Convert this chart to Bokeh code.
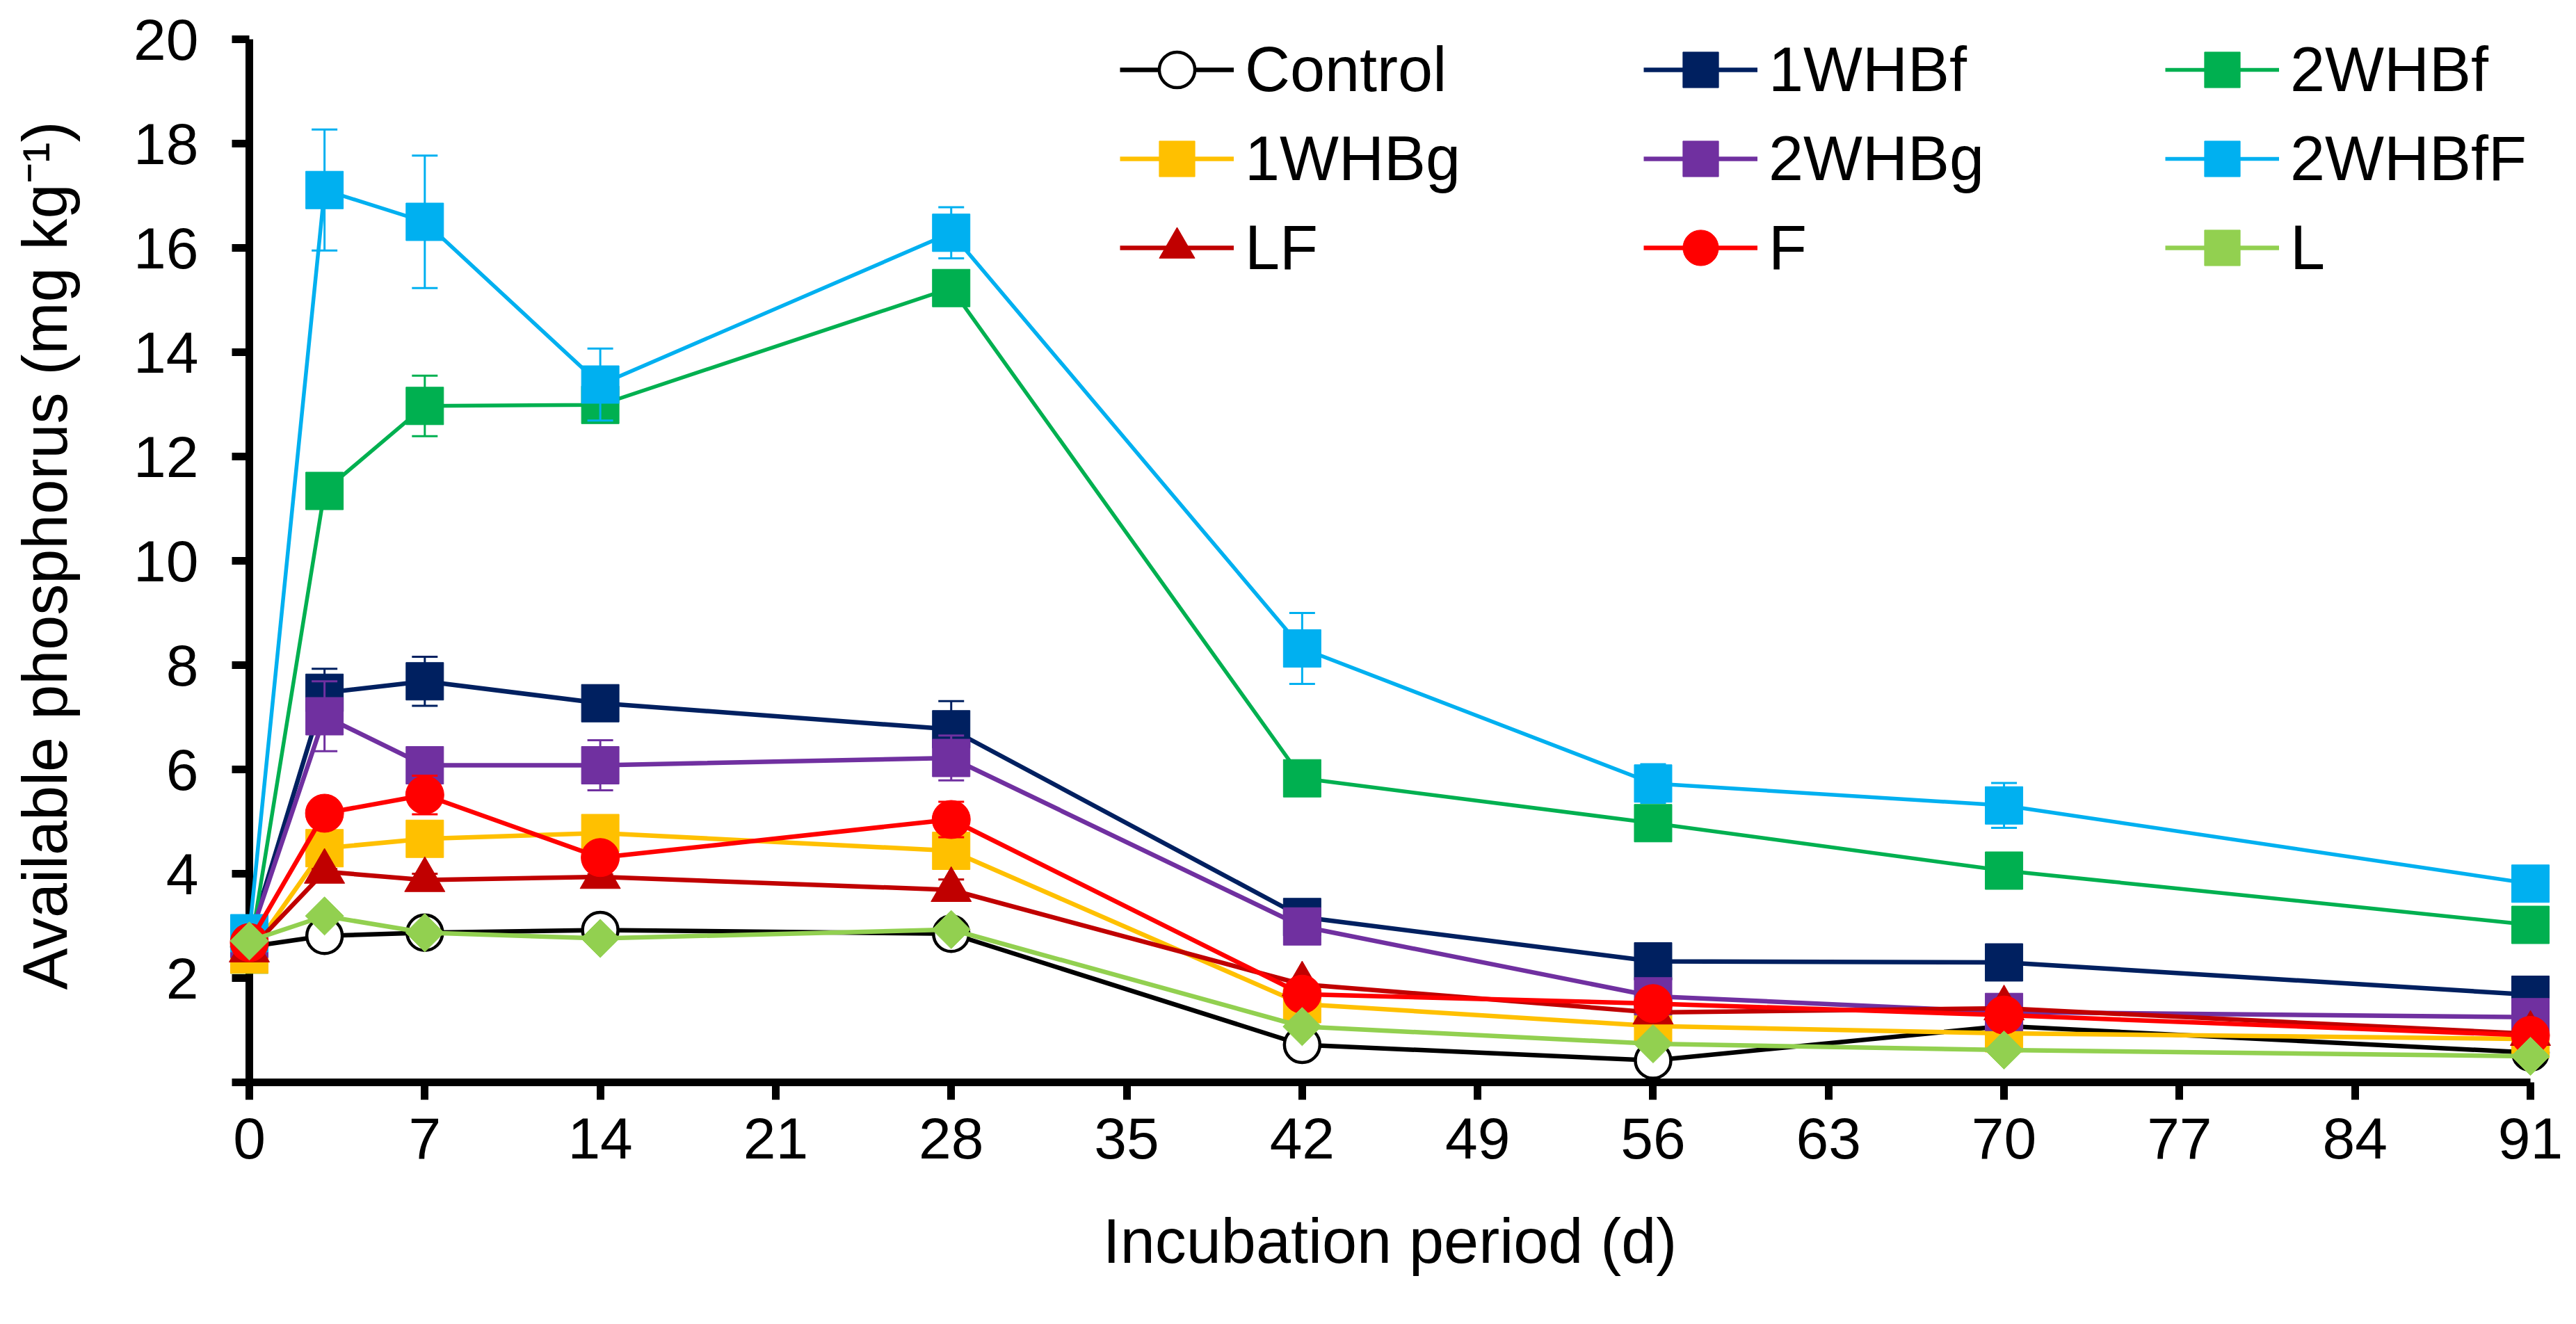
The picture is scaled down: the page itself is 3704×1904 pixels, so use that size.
import numpy as np
from bokeh.plotting import figure
from bokeh.models import (Range1d, FixedTicker, Legend, LegendItem,
                          ColumnDataSource)
from bokeh.embed import file_html
from bokeh.resources import INLINE

# ---------------- data ----------------
days = [0, 3, 7, 14, 28, 42, 56, 70, 91]
x_ticks = [0, 7, 14, 21, 28, 35, 42, 49, 56, 63, 70, 77, 84, 91]
y_ticks = [0, 2, 4, 6, 8, 10, 12, 14, 16, 18, 20]

control = [2.60, 2.81, 2.87, 2.92, 2.85, 0.72, 0.42, 1.08, 0.57]
wh1f = [2.75, 7.47, 7.69, 7.27, 6.77, 3.17, 2.32, 2.30, 1.68]
wh2f = [2.45, 11.34, 12.97, 12.99, 15.23, 5.83, 4.97, 4.06, 3.02]
wh1g = [2.45, 4.49, 4.67, 4.78, 4.44, 1.50, 1.08, 0.94, 0.83]
wh2g = [2.75, 7.02, 6.08, 6.08, 6.22, 2.99, 1.65, 1.35, 1.25]
wh2ff = [2.86, 17.11, 16.50, 13.38, 16.29, 8.32, 5.73, 5.31, 3.81]
lf = [2.53, 4.04, 3.88, 3.94, 3.69, 1.88, 1.34, 1.42, 0.93]
f = [2.68, 5.16, 5.51, 4.31, 5.04, 1.69, 1.51, 1.29, 0.90]
l = [2.71, 3.19, 2.87, 2.76, 2.93, 1.07, 0.74, 0.62, 0.50]

control_err = [0.10, 0.12, 0.10, 0.08, 0.10, 0.10, 0.06, 0.10, 0.05]
wh1f_err = [0.10, 0.46, 0.47, 0.20, 0.54, 0.15, 0.15, 0.10, 0.10]
wh2f_err = [0.10, 0.20, 0.58, 0.30, 0.20, 0.15, 0.15, 0.15, 0.10]
wh1g_err = [0.10, 0.25, 0.20, 0.25, 0.30, 0.15, 0.10, 0.10, 0.08]
wh2g_err = [0.10, 0.67, 0.25, 0.48, 0.43, 0.20, 0.15, 0.10, 0.10]
wh2ff_err = [0.10, 1.16, 1.27, 0.69, 0.49, 0.68, 0.37, 0.43, 0.15]
lf_err = [0.05, 0.05, 0.12, 0.05, 0.20, 0.05, 0.05, 0.05, 0.05]
f_err = [0.10, 0.20, 0.37, 0.25, 0.34, 0.20, 0.10, 0.10, 0.10]
l_err = [0.06, 0.08, 0.05, 0.07, 0.06, 0.05, 0.04, 0.05, 0.04]

names = ["Control", "1WHBf", "2WHBf", "1WHBg", "2WHBg", "2WHBfF", "LF", "F", "L"]
colors = ["#000000", "#002060", "#00B050", "#FFC000", "#7030A0", "#00B0F0",
          "#C00000", "#FF0000", "#92D050"]
values = [control, wh1f, wh2f, wh1g, wh2g, wh2ff, lf, f, l]
errors = [control_err, wh1f_err, wh2f_err, wh1g_err, wh2g_err, wh2ff_err,
          lf_err, f_err, l_err]

x_title = "Incubation period (d)"
y_title = "Available phosphorus (mg kg\u207b\u00b9)"

# ---------------- geometry ----------------
FONT = "Liberation Sans"
W, H = 3688, 1888
PX_UNIT = 75.0
Y_TOP = 20.2                      # a little headroom so the legend sits inside the frame
left_b = 358
frame_w = 3280
frame_h = int(round(Y_TOP * PX_UNIT))
top_b = 56 - (frame_h - 1500)

p = figure(width=W, height=H, x_range=Range1d(0, 91),
           y_range=Range1d(0, frame_h / PX_UNIT),
           output_backend="svg", toolbar_location=None,
           min_border_left=left_b, min_border_top=top_b,
           min_border_right=W - left_b - frame_w,
           min_border_bottom=H - top_b - frame_h)
p.outline_line_color = None
p.xgrid.visible = False
p.ygrid.visible = False
p.background_fill_color = "white"
p.border_fill_color = "white"

for ax in (p.xaxis[0], p.yaxis[0]):
    ax.axis_line_width = 11
    ax.axis_line_color = "black"
    ax.major_tick_line_width = 11
    ax.major_tick_line_color = "black"
    ax.major_tick_in = 0
    ax.major_tick_out = 25
    ax.minor_tick_line_color = None
    ax.major_label_text_font = FONT
    ax.major_label_text_font_size = "84px"
    ax.major_label_text_color = "black"
    ax.axis_label_text_font = FONT
    ax.axis_label_text_font_size = "90px"
    ax.axis_label_text_font_style = "normal"
    ax.axis_label_text_color = "black"

p.xaxis[0].ticker = FixedTicker(ticks=x_ticks)
p.xaxis[0].major_label_standoff = 26
p.xaxis[0].axis_label = x_title
p.xaxis[0].axis_label_standoff = 66
p.yaxis[0].ticker = FixedTicker(ticks=y_ticks)
p.yaxis[0].bounds = (0, 20)
p.yaxis[0].major_label_standoff = 48
p.yaxis[0].major_label_overrides = {0: ""}
p.yaxis[0].axis_label = y_title
p.yaxis[0].axis_label_standoff = 74

# ---------------- series ----------------
renderers = {}
for name, vals, err, color in zip(names, values, errors, colors):
    src = ColumnDataSource(dict(
        x=days, y=vals,
        lo=[v - e for v, e in zip(vals, err)],
        hi=[v + e for v, e in zip(vals, err)]))
    p.segment(x0="x", y0="lo", x1="x", y1="hi", source=src,
              line_color=color, line_width=3, level="overlay")
    p.scatter(x="x", y="hi", marker="dash", size=37, source=src,
              line_color=color, line_width=3, level="overlay")
    p.scatter(x="x", y="lo", marker="dash", size=37, source=src,
              line_color=color, line_width=3, level="overlay")
    lw = 5.5 if name in ("2WHBf", "2WHBfF") else 6.5
    r_line = p.line("x", "y", source=src, line_color=color, line_width=lw,
                    level="overlay")
    if name == "Control":
        r_pts = p.scatter("x", "y", source=src, marker="circle", size=51,
                          fill_color="white", line_color="black",
                          line_width=4.5, level="overlay")
    elif name == "F":
        r_pts = p.scatter("x", "y", source=src, marker="circle", size=55,
                          fill_color=color, line_color=color, line_width=1,
                          level="overlay")
    elif name == "LF":
        r_pts = p.scatter("x", "y", source=src, marker="triangle", size=58,
                          fill_color=color, line_color=color, line_width=1,
                          level="overlay")
    elif name == "L":
        r_pts = p.scatter("x", "y", source=src, marker="square", size=39,
                          angle=np.pi / 4, fill_color=color, line_color=color,
                          line_width=1, level="overlay")
    else:
        r_pts = p.scatter("x", "y", source=src, marker="square", size=54,
                          fill_color=color, line_color=color, line_width=1,
                          level="overlay")
    renderers[name] = [r_line, r_pts]

# ---------------- legend (3 columns) ----------------
columns = [["Control", "1WHBg", "LF"], ["1WHBf", "2WHBg", "F"],
           ["2WHBf", "2WHBfF", "L"]]
col_x = [1618 - 366, 2371 - 366, 3121 - 366]
for cx, col in zip(col_x, columns):
    leg = Legend(items=[LegendItem(label=n, renderers=renderers[n]) for n in col],
                 location=(cx, 1564 - 428), orientation="vertical",
                 glyph_width=164, glyph_height=128, label_height=128,
                 label_standoff=16, spacing=0, padding=0, margin=0,
                 border_line_color=None, background_fill_alpha=0,
                 label_text_font=FONT, label_text_font_size="90px",
                 label_text_color="black")
    p.add_layout(leg)

open("out.html", "w").write(file_html(p, INLINE))
